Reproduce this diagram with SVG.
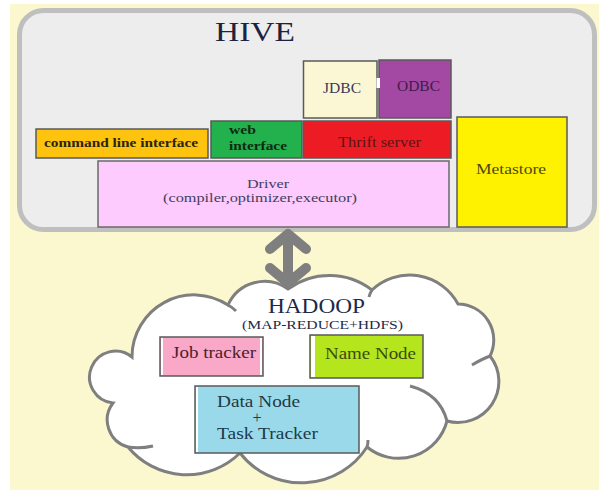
<svg xmlns="http://www.w3.org/2000/svg" width="599" height="490" viewBox="0 0 599 490" font-family="'Liberation Serif', 'DejaVu Serif', serif">
<style>
text{font-family:'Liberation Serif','DejaVu Serif',serif;}
.box{stroke:#5a5a5a;stroke-width:1.5;}
.s{font-size:13px;}
</style>
<rect x="0" y="0" width="599" height="490" fill="#ffffff"/>
<rect x="10" y="4" width="589" height="486" fill="#FBF8D0"/>
<g id="hive">
<rect x="19.5" y="10.5" width="575" height="219" rx="24" fill="#EDEDED" stroke="#BFBFBF" stroke-width="5"/>
<text x="215" y="41" font-size="28" fill="#1c2340" textLength="80" lengthAdjust="spacingAndGlyphs">HIVE</text>
</g>
<g id="cli">
<rect class="box" x="36" y="129" width="172" height="29" fill="#FDC30E"/>
<text class="s" x="44" y="147" font-weight="bold" fill="#2a2410" textLength="154" lengthAdjust="spacingAndGlyphs">command line interface</text>
</g>
<g id="web">
<rect class="box" x="211" y="121" width="91" height="37" fill="#22B14C"/>
<text class="s" x="229" y="134" font-weight="bold" fill="#0e2a12" textLength="27" lengthAdjust="spacingAndGlyphs">web</text>
<text class="s" x="229" y="150" font-weight="bold" fill="#0e2a12" textLength="58" lengthAdjust="spacingAndGlyphs">interface</text>
</g>
<g id="jdbc">
<rect class="box" x="303.5" y="61" width="73.5" height="57" fill="#FBF7D5"/>
<text x="323" y="93" font-size="14" fill="#3a3a5a" textLength="38" lengthAdjust="spacingAndGlyphs">JDBC</text>
</g>
<g id="odbc">
<rect class="box" x="379" y="60" width="72" height="58" fill="#A349A4"/>
<rect x="376.5" y="78" width="3.5" height="10" fill="#ffffff"/>
<text x="397" y="91" font-size="14" fill="#3d1c4a" textLength="43" lengthAdjust="spacingAndGlyphs">ODBC</text>
</g>
<g id="thrift">
<rect class="box" x="303.5" y="121" width="147.5" height="37" fill="#ED1C24"/>
<text x="338" y="147" font-size="14" fill="#5a1414" textLength="83" lengthAdjust="spacingAndGlyphs">Thrift server</text>
</g>
<g id="driver">
<rect x="98" y="161" width="351" height="66" fill="#FDCBFD" stroke="#6a6a6a" stroke-width="1.5"/>
<text class="s" x="247" y="188" fill="#404060" textLength="42" lengthAdjust="spacingAndGlyphs">Driver</text>
<text class="s" x="163" y="202" fill="#404060" textLength="194" lengthAdjust="spacingAndGlyphs">(compiler,optimizer,executor)</text>
</g>
<g id="metastore">
<rect class="box" x="457" y="117" width="110" height="110" fill="#FFF200"/>
<text x="476" y="174" font-size="14" fill="#4a4a10" textLength="70" lengthAdjust="spacingAndGlyphs">Metastore</text>
</g>
<g id="hadoop">
<path d="M288 289 A70 70 0 0 1 372 290 A55 55 0 0 1 458 304 A36 36 0 0 1 490 356 A41 41 0 0 1 447 421 A50 50 0 0 1 367 447 A78 78 0 0 1 240 453 A76 76 0 0 1 128 447 A28 28 0 0 1 113 403 A26 26 0 1 1 132 357 A62 62 0 0 1 228 305 A40 40 0 0 1 288 289 Z" fill="#ffffff" stroke="#7F7F7F" stroke-width="3"/>
<g fill="none" stroke="#7F7F7F" stroke-width="3">
<path d="M228 305 Q232 307 236 311"/>
<path d="M128 447 Q140 449 153 446"/>
<path d="M372 290 Q370 293 369 297"/>
<path d="M490 356 Q482 359 472 365"/>
<path d="M447 421 Q440 394 410 386"/>
<path d="M367 447 Q368 444 368 440"/>
</g>
<text x="268" y="313" font-size="20" fill="#1c2a48" textLength="97" lengthAdjust="spacingAndGlyphs">HADOOP</text>
<text class="s" x="242" y="329" fill="#1c2a48" textLength="161" lengthAdjust="spacingAndGlyphs">(MAP-REDUCE+HDFS)</text>
</g>
<g id="jobtracker">
<rect class="box" x="160" y="337" width="103" height="39" fill="#F9A9C7"/>
<rect x="161" y="338" width="2" height="37" fill="#ffffff"/>
<rect x="260" y="338" width="2" height="37" fill="#ffffff"/>
<text x="172" y="358" font-size="16" fill="#4a2030" textLength="84" lengthAdjust="spacingAndGlyphs">Job tracker</text>
</g>
<g id="namenode">
<rect class="box" x="310" y="335" width="113" height="43" fill="#B5E61D"/>
<rect x="311" y="336" width="4" height="41" fill="#ffffff"/>
<text x="325" y="359" font-size="16" fill="#3a4a10" textLength="91" lengthAdjust="spacingAndGlyphs">Name Node</text>
</g>
<g id="datanode">
<rect class="box" x="195" y="386" width="164" height="67" fill="#99D9EA"/>
<rect x="196" y="387" width="2" height="65" fill="#ffffff"/>
<text x="217" y="407" font-size="16" fill="#1f3a48" textLength="83" lengthAdjust="spacingAndGlyphs">Data Node</text>
<text x="257" y="423" font-size="16" fill="#1f3a48" text-anchor="middle">+</text>
<text x="217" y="439" font-size="16" fill="#1f3a48" textLength="101" lengthAdjust="spacingAndGlyphs">Task Tracker</text>
</g>
<g id="connectors" fill="none" stroke="#7F7F7F" stroke-width="10" stroke-linecap="round" stroke-linejoin="round">
<path d="M288 235 L288 281"/>
<path d="M270 249 L288 234 L306 249"/>
<path d="M270 268 L288 283 L306 268"/>
</g>
</svg>
